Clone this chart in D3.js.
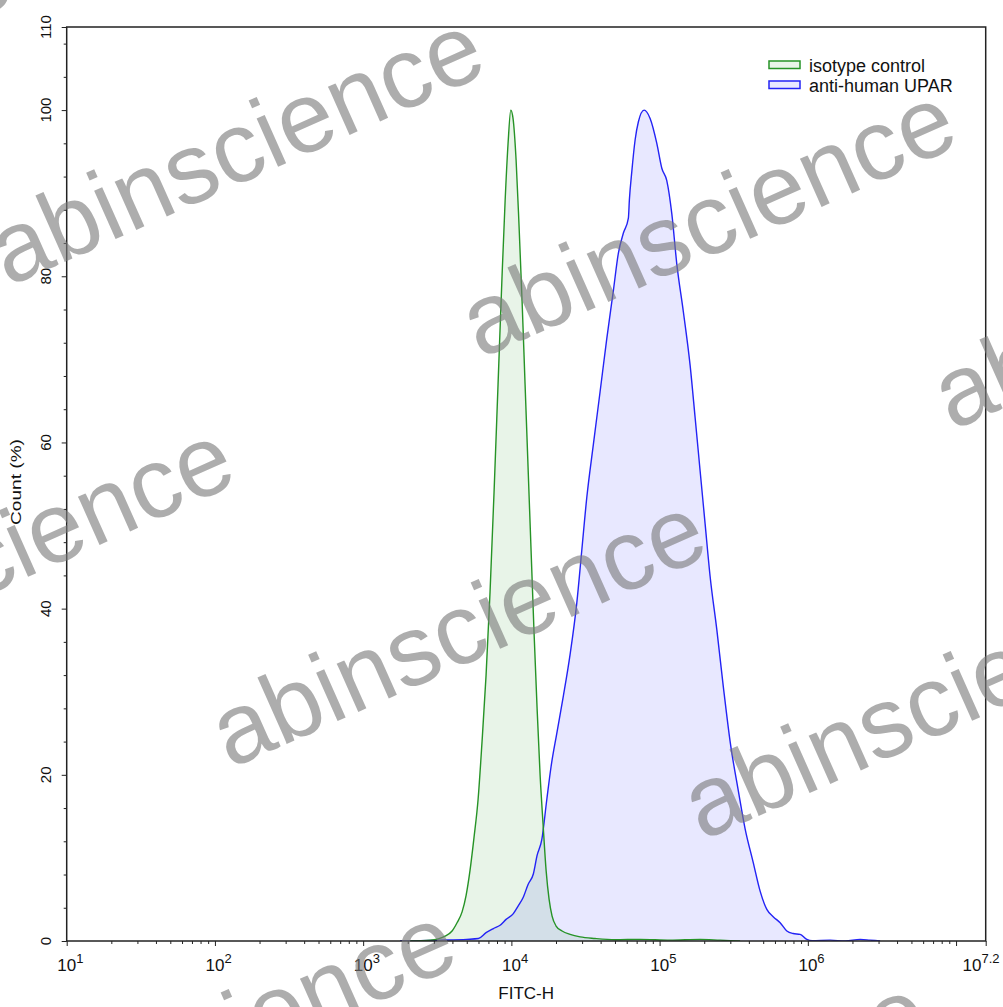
<!DOCTYPE html>
<html><head><meta charset="utf-8">
<script src="https://cdn.jsdelivr.net/npm/d3@7"></script>
<style>html,body{margin:0;padding:0;background:#fff;overflow:hidden} svg{display:block;}</style>
</head><body>
<svg id="chart" width="1003" height="1007"></svg>
<script>
// ---- data (FITC-H value, count %) ----
const isotypeX = [2070, 2830, 3570, 3980, 4300, 4650, 4950, 5260, 5600, 5960, 6340, 6750, 7180, 7640, 8130, 8650, 9070, 9500, 9910, 10260, 10760, 11270, 11810, 12370, 12960, 13580, 14230, 14910, 15620, 16370, 17150, 17970, 18820, 20030, 21990, 24900, 29090, 36710, 50100, 73860, 117700, 187600, 256000, 349300];
const isotypeY = [0, 0.1, 0.6, 1.2, 2.2, 3.5, 5.5, 8.5, 12.5, 17, 24, 32, 42, 54, 67, 80, 89, 96, 100, 99, 94, 86, 77, 67, 57, 47, 37, 28, 20, 14, 8.5, 5, 3, 1.8, 1.2, 0.8, 0.5, 0.3, 0.15, 0.2, 0.1, 0.2, 0.1, 0];
const uparX = [1774, 3300, 5000, 5990, 6750, 7560, 8390, 9210, 10310, 11100, 12050, 12960, 14080, 14910, 16040, 17330, 18530, 20250, 22430, 24900, 27630, 29850, 32280, 35760, 39670, 44020, 48780, 52720, 56970, 61570, 62540, 64930, 68350, 71930, 78600, 86300, 95750, 103500, 111800, 120900, 130600, 144700, 160600, 173600, 187600, 202800, 219100, 243100, 269500, 299100, 340200, 377500, 427500, 476600, 528900, 586100, 650500, 721800, 795800, 887200, 984700, 1069000, 1414000, 1785000, 2254000, 2633000, 3076000];
const uparY = [0, 0.1, 0.2, 0.3, 1.0, 1.5, 1.9, 2.6, 3.3, 4.2, 5.3, 6.8, 8.1, 10.3, 12.2, 17, 21, 25, 29.5, 34.5, 40.7, 47, 53.4, 59.8, 66.1, 72.5, 78.3, 82.8, 85.2, 87, 89.2, 92.6, 96.4, 98.6, 100, 99, 96, 93, 91.5, 87.5, 81.5, 75.7, 69.3, 63, 56.6, 50.2, 43.9, 37.5, 30.5, 24, 18, 13.5, 9.5, 6, 3.8, 2.9, 2.2, 1.2, 0.9, 0.8, 0.2, 0.05, 0.1, 0, 0.2, 0.1, 0];
const seriesNames = ["isotype control", "anti-human UPAR"];
const xTickValues = [1e1, 1e2, 1e3, 1e4, 1e5, 1e6, Math.pow(10, 7.2)];
const xTickBase = "10";
const xTickExponents = ["1", "2", "3", "4", "5", "6", "7.2"];
const yTickValues = [0, 20, 40, 60, 80, 100, 110];
const xAxisTitle = "FITC-H";
const yAxisTitle = "Count (%)";
const watermarkText = "abinscience";

// ---- layout ----
const FONT = "'Liberation Sans', Arial, sans-serif";
const plot = {left: 66.7, right: 985.7, top: 27, bottom: 941};
const svg = d3.select("#chart");
const x = d3.scaleLog().domain([10, Math.pow(10, 7.2)]).range([plot.left, plot.right]);
const y = d3.scaleLinear().domain([0, 110]).range([plot.bottom, plot.top]);

svg.append("defs").append("clipPath").attr("id", "clip")
  .append("rect").attr("x", plot.left).attr("y", plot.top)
  .attr("width", plot.right - plot.left).attr("height", plot.bottom - plot.top);

const colors = {
  iso: {stroke: "#269326", fill: "rgb(0,128,0)"},
  upar: {stroke: "#2323f5", fill: "rgb(0,0,255)"}
};

const g = svg.append("g").attr("clip-path", "url(#clip)");
const area = d3.area().x(d => x(d[0])).y0(y(0)).y1(d => y(d[1])).curve(d3.curveMonotoneX);
const line = d3.line().x(d => x(d[0])).y(d => y(d[1])).curve(d3.curveMonotoneX);
const isoData = isotypeX.map((v, i) => [v, isotypeY[i]]);
const uparData = uparX.map((v, i) => [v, uparY[i]]);

g.append("path").datum(uparData).attr("d", area).attr("fill", colors.upar.fill).attr("fill-opacity", 0.09);
g.append("path").datum(isoData).attr("d", area).attr("fill", colors.iso.fill).attr("fill-opacity", 0.09);
g.append("path").datum(uparData).attr("d", line).attr("fill", "none").attr("stroke", colors.upar.stroke).attr("stroke-width", 1.4);
g.append("path").datum(isoData).attr("d", line).attr("fill", "none").attr("stroke", colors.iso.stroke).attr("stroke-width", 1.4);

// ---- axes ----
const xMajor = [1e1, 1e2, 1e3, 1e4, 1e5, 1e6, 1e7, Math.pow(10, 7.2)];
const xMinor = [];
for (let k = 1; k <= 7; k++) for (let j = 2; j <= 9; j++) { const v = j * Math.pow(10, k); if (v < Math.pow(10, 7.2)) xMinor.push(v); }
const yMinor = d3.range(4, 110, 4).filter(v => v % 20 !== 0);

function styleAxis(sel) {
  sel.select(".domain").remove();
  sel.selectAll("line").attr("stroke", "#222").attr("stroke-width", 1);
  sel.selectAll("text").remove();
}
svg.append("g").attr("transform", `translate(0,${plot.bottom})`)
  .call(d3.axisBottom(x).tickValues(xMajor).tickSize(5).tickSizeOuter(0).tickFormat("")).call(styleAxis);
svg.append("g").attr("transform", `translate(0,${plot.bottom})`)
  .call(d3.axisBottom(x).tickValues(xMinor).tickSize(3).tickSizeOuter(0).tickFormat("")).call(styleAxis);
svg.append("g").attr("transform", `translate(${plot.left},0)`)
  .call(d3.axisLeft(y).tickValues(yTickValues).tickSize(5).tickSizeOuter(0).tickFormat("")).call(styleAxis);
svg.append("g").attr("transform", `translate(${plot.left},0)`)
  .call(d3.axisLeft(y).tickValues(yMinor).tickSize(3).tickSizeOuter(0).tickFormat("")).call(styleAxis);

// frame
svg.append("rect").attr("x", plot.left).attr("y", plot.top)
  .attr("width", plot.right - plot.left).attr("height", plot.bottom - plot.top)
  .attr("fill", "none").attr("stroke", "#222").attr("stroke-width", 1.5);

// x tick labels
xTickValues.forEach((v, i) => {
  const last = i === xTickValues.length - 1;
  const t = svg.append("text").attr("font-family", FONT).attr("font-size", 17).attr("fill", "#111")
    .attr("x", last ? 962.5 : x(v) - 9.4).attr("y", 971);
  t.append("tspan").text(xTickBase);
  t.append("tspan").attr("font-size", 13).attr("dy", -8.5).text(xTickExponents[i]);
});
// y tick labels
yTickValues.forEach(v => {
  svg.append("text").attr("font-family", FONT).attr("font-size", 15).attr("fill", "#111")
    .attr("text-anchor", "middle")
    .attr("transform", `translate(50.5,${y(v)}) rotate(-90)`).text(v);
});
// axis titles
svg.append("text").attr("font-family", FONT).attr("font-size", 17).attr("fill", "#111")
  .attr("text-anchor", "middle").attr("x", (plot.left + plot.right) / 2).attr("y", 999).text(xAxisTitle);
svg.append("text").attr("font-family", FONT).attr("font-size", 14).attr("fill", "#111")
  .attr("text-anchor", "middle").attr("textLength", 86).attr("lengthAdjust", "spacingAndGlyphs")
  .attr("transform", `translate(21,482) rotate(-90)`).text(yAxisTitle);

// legend
const legendColors = [colors.iso, colors.upar];
seriesNames.forEach((name, i) => {
  const ly = 61 + i * 20;
  svg.append("rect").attr("x", 769).attr("y", ly).attr("width", 31).attr("height", 7.5)
    .attr("fill", legendColors[i].fill).attr("fill-opacity", 0.09)
    .attr("stroke", legendColors[i].stroke).attr("stroke-width", 1.5);
  svg.append("text").attr("font-family", FONT).attr("font-size", 18).attr("fill", "#111")
    .attr("x", 809).attr("y", ly + 11).text(name);
});

// watermark
const wm = svg.append("g").attr("pointer-events", "none");
const base = [8, 287], u = [472, 72], vv = [-250, 410];
for (let i = -2; i <= 3; i++) for (let j = -2; j <= 3; j++) {
  const px = base[0] + i * u[0] + j * vv[0], py = base[1] + i * u[1] + j * vv[1];
  if (px < -700 || px > 1010 || py < -50 || py > 1400) continue;
  wm.append("text").attr("font-family", FONT).attr("font-size", 100)
    .attr("fill", "#7a7a7a").attr("fill-opacity", 0.62)
    .attr("transform", `translate(${px},${py}) rotate(-24)`).text(watermarkText);
}
</script>
</body></html>
